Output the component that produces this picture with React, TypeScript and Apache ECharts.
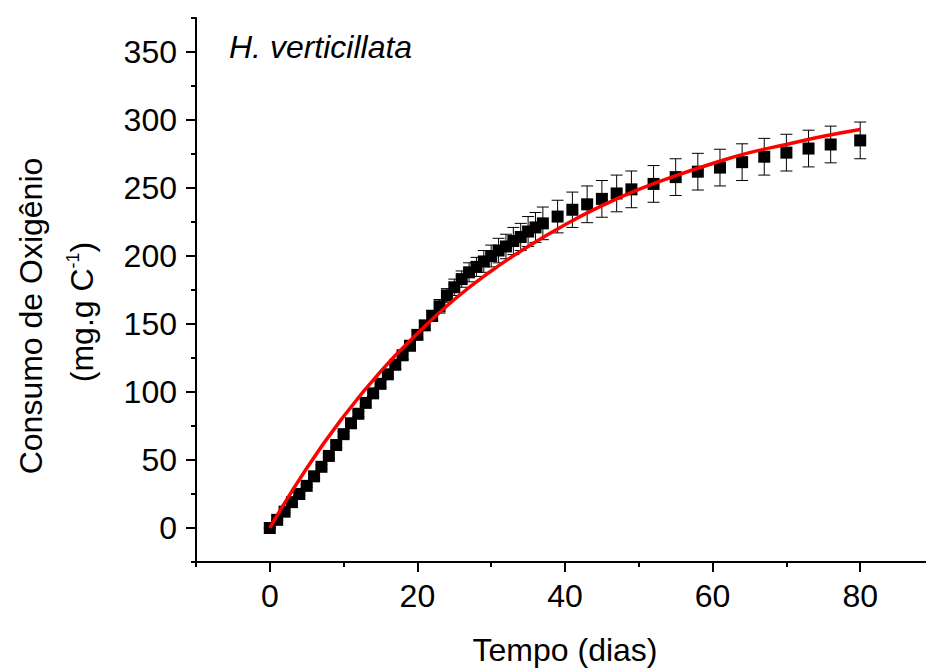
import React, { useEffect, useRef } from "react";
import * as echarts from "echarts";

const dias = [
  0, 1, 2, 3, 4, 5, 6, 7, 8, 9, 10, 11, 12, 13, 14, 15, 16, 17, 18, 19, 20,
  21, 22, 23, 24, 25, 26, 27, 28, 29, 30, 31, 32, 33, 34, 35, 36, 37,
  39, 41, 43, 45, 47, 49, 52, 55, 58, 61, 64, 67, 70, 73, 76, 80,
];
const consumo = [
  0, 6, 12, 19, 25, 31, 38, 45, 53, 61, 69, 77, 84, 92, 99, 106, 113, 120, 127, 134, 142,
  149, 156, 163, 171, 177, 183, 188, 192, 196, 200, 204, 207, 211, 214, 218, 221, 224,
  229, 234, 238, 242, 246, 249, 253, 258, 262, 265, 269, 273, 276, 279, 282, 285,
];
const erro = [
  0.5, 0.5, 1, 1, 1, 1, 1.5, 1.5, 1.5, 2, 2, 2, 2, 2.5, 2.5, 2.5, 2.5, 3, 3, 3, 3,
  3, 4, 5, 5, 6, 6, 7, 7, 8, 8, 9, 9, 10, 10, 11, 11, 12,
  12, 13, 13.5, 13.5, 13.5, 13.5, 13.5, 13.5, 13.5, 13.5, 13.5, 13.5, 13.5, 13.5, 13.5, 13.5,
];

const ajusteDias = [0, 5, 10, 15, 20, 25, 30, 35, 40, 45, 50, 55, 60, 65, 70, 75, 80];
const ajusteValores = [0, 44, 82, 115, 143, 168, 189, 207, 223, 237, 249, 259, 268, 276, 282, 288, 293];

const xMajor = [0, 20, 40, 60, 80];
const xMinor = [-10, 10, 30, 50, 70, 90];
const yMajor = [0, 50, 100, 150, 200, 250, 300, 350];
const yMinor = [-25, 25, 75, 125, 175, 225, 275, 325, 375];

const FONT = "'Liberation Sans', Arial, Helvetica, sans-serif";

export default function App() {
  const ref = useRef<HTMLDivElement>(null);
  useEffect(() => {
    document.body.style.margin = "0";
    const chart = echarts.init(ref.current!, null, { renderer: "svg" });
    const axisLine = { show: true, onZero: false, lineStyle: { color: "#000", width: 2 } };
    const hiddenLine = { show: false, onZero: false };
    const option: any = {
      animation: false,
      backgroundColor: "#fff",
      textStyle: { fontFamily: FONT },
      grid: { left: 196, right: -8, top: 18, bottom: 109, containLabel: false, outerBoundsMode: "none" },
      xAxis: [
        {
          type: "value",
          min: -10,
          max: 90,
          interval: 10,
          position: "bottom",
          axisLine,
          axisTick: { show: true, inside: false, length: 10, customValues: xMajor, lineStyle: { color: "#000", width: 2 } },
          axisLabel: { show: true, customValues: xMajor, margin: 18, fontSize: 32, color: "#000", fontFamily: FONT },
          splitLine: { show: false },
          name: "Tempo (dias)",
          nameLocation: "middle",
          nameGap: 72,
          nameTextStyle: { fontSize: 32, color: "#000", fontFamily: FONT },
        },
        {
          type: "value",
          min: -10,
          max: 90,
          interval: 10,
          position: "bottom",
          axisLine: hiddenLine,
          axisTick: { show: true, inside: false, length: 5, customValues: xMinor, lineStyle: { color: "#000", width: 2 } },
          axisLabel: { show: false },
          splitLine: { show: false },
        },
      ],
      yAxis: [
        {
          type: "value",
          min: -25,
          max: 375,
          interval: 25,
          position: "left",
          axisLine,
          axisTick: { show: true, inside: false, length: 10, customValues: yMajor, lineStyle: { color: "#000", width: 2 } },
          axisLabel: { show: true, customValues: yMajor, margin: 19, fontSize: 32, color: "#000", fontFamily: FONT },
          splitLine: { show: false },
        },
        {
          type: "value",
          min: -25,
          max: 375,
          interval: 25,
          position: "left",
          axisLine: hiddenLine,
          axisTick: { show: true, inside: false, length: 5, customValues: yMinor, lineStyle: { color: "#000", width: 2 } },
          axisLabel: { show: false },
          splitLine: { show: false },
        },
      ],
      graphic: [
        {
          type: "text",
          x: 31,
          y: 316,
          rotation: Math.PI / 2,
          style: {
            text: "Consumo de Oxigênio",
            fontSize: 32,
            fontFamily: FONT,
            fill: "#000",
            align: "center",
            verticalAlign: "middle",
          },
        },
        {
          type: "text",
          x: 82,
          y: 312,
          rotation: Math.PI / 2,
          style: {
            text: "{a|(mg.g C}{b|-1}{a|)}",
            fontFamily: FONT,
            fill: "#000",
            align: "center",
            verticalAlign: "middle",
            rich: {
              a: { fontSize: 32, fontFamily: FONT, fill: "#000", lineHeight: 36 },
              b: { fontSize: 18, fontFamily: FONT, fill: "#000", verticalAlign: "top", lineHeight: 18 },
            },
          },
        },
        {
          type: "text",
          left: 229,
          top: 31,
          style: {
            text: "H. verticillata",
            fontSize: 32,
            fontStyle: "italic",
            fontFamily: FONT,
            fill: "#000",
          },
        },
      ],
      series: [
        {
          type: "custom",
          xAxisIndex: 0,
          yAxisIndex: 0,
          z: 1,
          encode: { x: 0, y: [1, 2] },
          data: dias.map((d, i) => [d, consumo[i] - erro[i], consumo[i] + erro[i]]),
          renderItem: (params: any, api: any) => {
            const x = api.value(0);
            const lo = api.coord([x, api.value(1)]);
            const hi = api.coord([x, api.value(2)]);
            const hw = 6;
            const style = { stroke: "#000", lineWidth: 1 };
            return {
              type: "group",
              children: [
                { type: "line", shape: { x1: hi[0], y1: hi[1], x2: lo[0], y2: lo[1] }, style },
                { type: "line", shape: { x1: hi[0] - hw, y1: hi[1], x2: hi[0] + hw, y2: hi[1] }, style },
                { type: "line", shape: { x1: lo[0] - hw, y1: lo[1], x2: lo[0] + hw, y2: lo[1] }, style },
              ],
            };
          },
        },
        {
          type: "scatter",
          xAxisIndex: 0,
          yAxisIndex: 0,
          z: 2,
          symbol: "rect",
          symbolSize: 12,
          itemStyle: { color: "#000", opacity: 1 },
          data: dias.map((d, i) => [d, consumo[i]]),
        },
        {
          type: "line",
          xAxisIndex: 0,
          yAxisIndex: 0,
          z: 3,
          smooth: true,
          showSymbol: false,
          symbol: "none",
          lineStyle: { color: "#ff0000", width: 3.5 },
          data: ajusteDias.map((d, i) => [d, ajusteValores[i]]),
        },
      ],
    };
    chart.setOption(option);
    return () => chart.dispose();
  }, []);
  return (
    <div
      ref={ref}
      style={{ position: "absolute", left: 0, top: 0, width: 926, height: 671, background: "#fff" }}
    />
  );
}
